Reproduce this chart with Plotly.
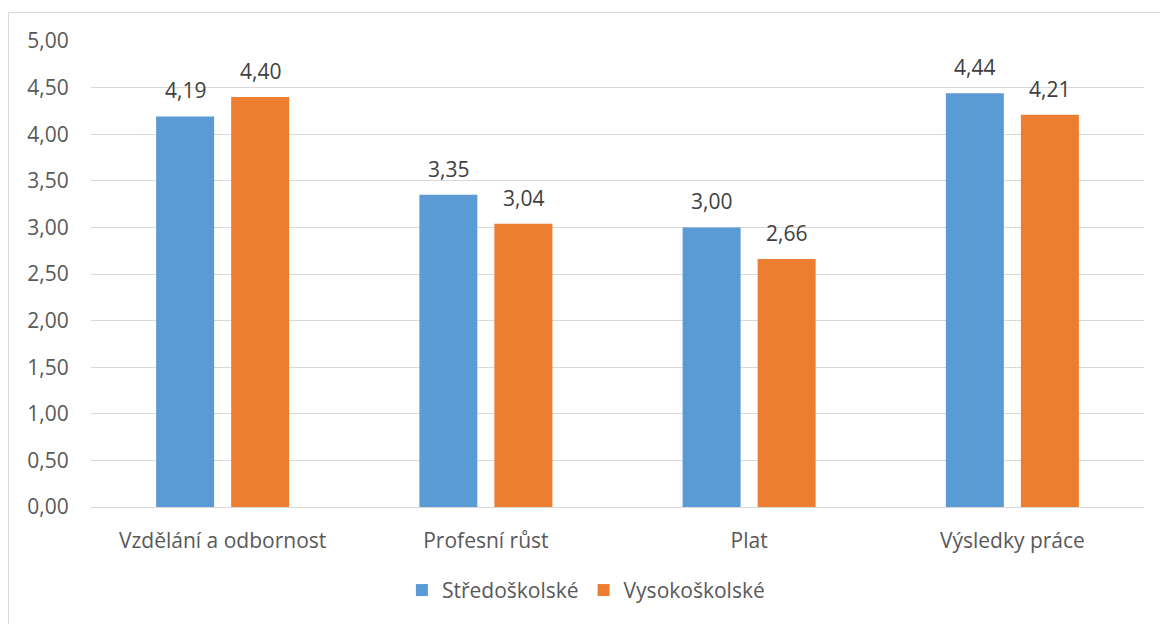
import plotly.graph_objects as go

categories = ["Vzdělání a odbornost", "Profesní růst", "Plat", "Výsledky práce"]
stredoskolske = [4.19, 3.35, 3.00, 4.44]
vysokoskolske = [4.40, 3.04, 2.66, 4.21]
y_ticks = [0, 0.5, 1, 1.5, 2, 2.5, 3, 3.5, 4, 4.5, 5]

FONT = "'Open Sans', sans-serif"
FS = 21
W, H = 1160, 624
ML, MR, MT, MB = 91, 16, 41, 117
PW, PH = W - ML - MR, H - MT - MB
SLOT = 75  # horizontal distance between the two bar centres in a group

fig = go.Figure()
fig.add_trace(go.Bar(
    name="Středoškolské", x=categories, y=stredoskolske,
    marker=dict(color="#5b9bd5", line=dict(width=0)),
))
fig.add_trace(go.Bar(
    name="Vysokoškolské", x=categories, y=vysokoskolske,
    marker=dict(color="#ed7d31", line=dict(width=0)),
))

# value labels above each bar
for values, shift in ((stredoskolske, -SLOT / 2), (vysokoskolske, SLOT / 2)):
    for cat, v in zip(categories, values):
        fig.add_annotation(
            x=cat, y=v, xref="x", yref="y",
            text=f"{v:.2f}".replace(".", ","),
            showarrow=False, xshift=shift, yshift=10, yanchor="bottom",
            font=dict(size=FS, color="#404040", family=FONT),
        )

# light frame around the chart
fig.add_shape(
    type="rect", xref="paper", yref="paper",
    x0=(8.5 - ML) / PW, x1=(W + 10 - ML) / PW,
    y0=(MT + PH - (H + 10)) / PH, y1=(MT + PH - 12.5) / PH,
    line=dict(color="#d9d9d9", width=1), fillcolor="rgba(0,0,0,0)", layer="below",
)

fig.update_layout(
    width=W, height=H,
    margin=dict(l=ML, r=MR, t=MT, b=MB),
    paper_bgcolor="white", plot_bgcolor="white",
    separators=", ",
    barmode="group", bargap=0.43, bargroupgap=0.227,
    font=dict(family=FONT, size=FS, color="#595959"),
    showlegend=True,
    legend=dict(
        orientation="h", x=0.47, xanchor="center", y=-0.135, yanchor="top",
        font=dict(size=FS, color="#595959", family=FONT),
        itemwidth=30, traceorder="normal",
    ),
    xaxis=dict(
        showgrid=False, showline=False, zeroline=False,
        ticks="outside", ticklen=15, tickcolor="rgba(0,0,0,0)",
        tickfont=dict(size=FS, color="#595959"),
    ),
    yaxis=dict(
        range=[0, 5], tickvals=y_ticks, tickformat=".2f",
        showgrid=True, gridcolor="#d9d9d9", gridwidth=1,
        zeroline=True, zerolinecolor="#d9d9d9", zerolinewidth=1,
        showline=False, ticks="outside", ticklen=17, tickcolor="rgba(0,0,0,0)",
        tickfont=dict(size=FS, color="#595959"),
    ),
)

fig.write_html("out.html")
